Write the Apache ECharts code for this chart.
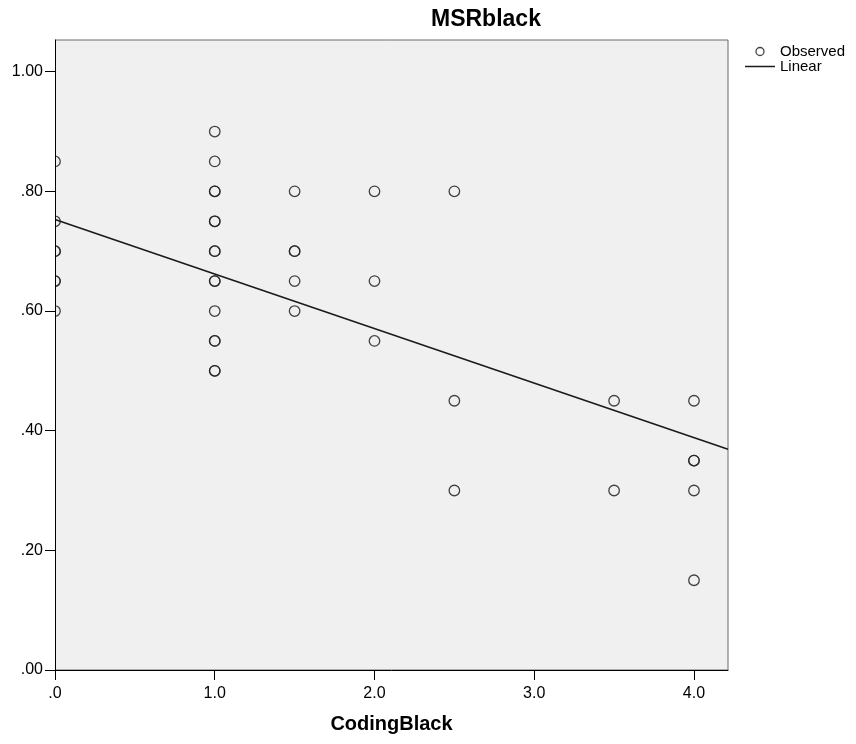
<!DOCTYPE html>
<html>
<head>
<meta charset="utf-8">
<title>MSRblack</title>
<script src="https://cdn.jsdelivr.net/npm/echarts@6/dist/echarts.min.js"></script>
<style>
    html, body { margin: 0; padding: 0; background: #fff; }
    #chart { width: 856px; height: 744px; }
</style>
</head>
<body>
<div id="chart"></div>
<script>
// observed points (duplicates drawn twice, like SPSS does)
const codingBlack = [
    0, 0, 0, 0, 0, 0, 0,
    1, 1, 1, 1, 1, 1, 1, 1, 1, 1, 1, 1, 1, 1, 1,
    1.5, 1.5, 1.5, 1.5, 1.5,
    2, 2, 2,
    2.5, 2.5, 2.5,
    3.5, 3.5,
    4, 4, 4, 4, 4,
]
const msrBlack = [
    0.85, 0.75, 0.70, 0.70, 0.65, 0.65, 0.60,
    0.90, 0.85, 0.80, 0.80, 0.75, 0.75, 0.70, 0.70, 0.65, 0.65, 0.60, 0.55, 0.55, 0.50, 0.50,
    0.80, 0.70, 0.70, 0.65, 0.60,
    0.80, 0.65, 0.55,
    0.80, 0.45, 0.30,
    0.45, 0.30,
    0.45, 0.35, 0.35, 0.30, 0.15,
]

// linear fit at both edges of the plot
const fitX = [0, 4.213]
const fitY = [0.753, 0.369]

const xTicks = [0, 1, 2, 3, 4]
const yTicks = [0, 0.2, 0.4, 0.6, 0.8, 1.0]

const FONT = '"Liberation Sans", Arial, sans-serif'

const chart = echarts.init(document.getElementById('chart'))

const option = {
    animation: false,
    textStyle: { fontFamily: FONT },
    title: {
        text: 'MSRblack',
        left: 431,
        top: 8,
        padding: 0,
        textStyle: { fontSize: 23, fontWeight: 'bold', color: '#000', fontFamily: FONT },
    },
    legend: {
        orient: 'vertical',
        left: 745,
        top: 44,
        padding: 0,
        itemGap: 0,
        itemWidth: 30,
        itemHeight: 8,
        textStyle: { fontSize: 15, color: '#000', lineHeight: 14, fontFamily: FONT },
        data: [
            {
                name: 'Observed',
                icon: 'circle',
                itemStyle: { color: 'transparent', borderColor: '#222', borderWidth: 1.3 },
            },
            {
                // plain line, no marker in the middle
                name: 'Linear',
                icon: 'path://M0,0 L30,0 L30,1.5 L0,1.5 Z',
                itemStyle: { color: '#1a1a1a', borderWidth: 0 },
            },
        ],
    },
    grid: {
        left: 55,
        top: 40,
        right: 128,
        bottom: 74,
        show: true,
        backgroundColor: '#f0f0f0',
        borderColor: '#6a6a6a',
        borderWidth: 1,
    },
    xAxis: {
        type: 'value',
        min: 0,
        max: fitX[1],
        z: 20,
        name: 'CodingBlack',
        nameLocation: 'middle',
        nameGap: 44,
        nameTextStyle: { fontSize: 20, fontWeight: 'bold', color: '#000', fontFamily: FONT },
        splitLine: { show: false },
        axisLine: { show: true, onZero: false, lineStyle: { color: '#000', width: 1 } },
        axisTick: { show: true, length: 10, customValues: xTicks, lineStyle: { color: '#000' } },
        axisLabel: {
            customValues: xTicks,
            margin: 16,
            fontSize: 16,
            color: '#000',
            formatter: (v) => v.toFixed(1).replace(/^0/, ''),
        },
    },
    yAxis: {
        type: 'value',
        min: 0,
        max: 1.053,
        z: 20,
        splitLine: { show: false },
        axisLine: { show: true, onZero: false, lineStyle: { color: '#000', width: 1 } },
        axisTick: { show: true, length: 10, customValues: yTicks, lineStyle: { color: '#000' } },
        axisLabel: {
            customValues: yTicks,
            margin: 12,
            fontSize: 16,
            color: '#000',
            padding: [4, 0, 0, 0],
            formatter: (v) => v.toFixed(2).replace(/^0/, ''),
        },
    },
    // white mask left of the plot so points on x = 0 look half cut, as in SPSS
    graphic: [
        {
            type: 'rect',
            z: 10,
            silent: true,
            shape: { x: 0, y: 0, width: 55, height: 744 },
            style: { fill: '#fff' },
        },
    ],
    series: [
        {
            name: 'Observed',
            type: 'scatter',
            symbol: 'circle',
            symbolSize: 10.5,
            clip: false,
            itemStyle: { color: 'transparent', borderColor: '#222', borderWidth: 1.3, opacity: 0.85 },
            data: codingBlack.map((x, i) => [x, msrBlack[i]]),
        },
        {
            name: 'Linear',
            type: 'line',
            symbol: 'none',
            itemStyle: { color: '#1a1a1a' },
            lineStyle: { color: '#1a1a1a', width: 1.6 },
            data: fitX.map((x, i) => [x, fitY[i]]),
        },
    ],
}

chart.setOption(option)
</script>
</body>
</html>
